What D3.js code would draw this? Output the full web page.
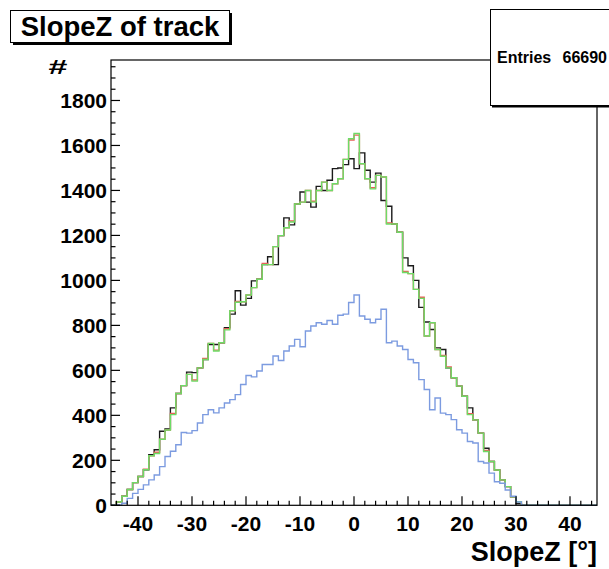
<!DOCTYPE html>
<html>
<head>
<meta charset="utf-8">
<script src="https://cdn.jsdelivr.net/npm/d3@7"></script>
<style>
  body { margin: 0; background: #fff; }
  text { font-family: "Liberation Sans", Arial, Helvetica, sans-serif; font-weight: bold; }
</style>
</head>
<body>
<div id="chart"></div>
<script>
// 1 degree bins from -45 to 45
var binLow = -45, binHigh = 45;

var blackCounts = [0, 15, 40, 70, 101, 128, 158, 225, 247, 329,
    339, 433, 497, 532, 592, 590, 611, 648, 715, 715,
    723, 790, 850, 954, 890, 920, 998, 1005, 1070, 1105,
    1070, 1199, 1278, 1247, 1340, 1393, 1348, 1326, 1418, 1400,
    1445, 1497, 1500, 1515, 1541, 1497, 1567, 1490, 1437, 1477,
    1355, 1330, 1251, 1214, 1100, 1065, 1000, 880, 815, 782,
    700, 693, 611, 567, 530, 485, 433, 380, 321, 254,
    195, 157, 113, 83, 38, 7, 0, 0, 0, 0,
    0, 0, 0, 0, 0, 0, 0, 0, 0, 0];

var redCounts = [0, 15, 40, 70, 101, 128, 160, 220, 236, 294,
    335, 408, 497, 532, 582, 557, 611, 653, 720, 690,
    723, 785, 865, 906, 905, 935, 968, 1005, 1075, 1070,
    1150, 1199, 1234, 1264, 1340, 1348, 1400, 1352, 1400, 1437,
    1400, 1430, 1452, 1538, 1624, 1646, 1519, 1452, 1412, 1467,
    1460, 1255, 1251, 1214, 1040, 1030, 960, 925, 753, 812,
    693, 666, 615, 567, 530, 485, 407, 380, 321, 244,
    195, 157, 113, 83, 38, 16, 0, 0, 0, 0,
    0, 0, 0, 0, 0, 0, 0, 0, 0, 0];

var greenCounts = [0, 15, 40, 70, 101, 128, 158, 220, 230, 294,
    335, 403, 497, 532, 582, 552, 611, 648, 720, 686,
    723, 780, 865, 903, 905, 935, 968, 1005, 1070, 1070,
    1150, 1199, 1234, 1260, 1340, 1348, 1400, 1348, 1400, 1437,
    1400, 1430, 1452, 1538, 1630, 1653, 1519, 1452, 1407, 1467,
    1460, 1251, 1251, 1214, 1035, 1030, 960, 920, 753, 812,
    693, 663, 611, 567, 530, 485, 403, 380, 321, 239,
    195, 157, 113, 83, 38, 16, 0, 0, 0, 0,
    0, 0, 0, 0, 0, 0, 0, 0, 0, 0];

var blueCounts = [0, 2, 9, 31, 53, 71, 91, 113, 135, 172,
    217, 240, 269, 324, 321, 332, 366, 403, 425, 411,
    433, 455, 470, 492, 537, 577, 571, 597, 626, 626,
    664, 644, 686, 708, 738, 705, 775, 797, 812, 805,
    822, 805, 845, 850, 902, 935, 842, 827, 812, 827,
    872, 723, 730, 708, 693, 648, 634, 559, 515, 425,
    477, 410, 403, 381, 336, 321, 284, 277, 195, 188,
    143, 105, 98, 68, 40, 15, 0, 0, 0, 0,
    0, 0, 0, 0, 0, 0, 0, 0, 0, 0];

var xTicks = [-40, -30, -20, -10, 0, 10, 20, 30, 40];
var yTicks = [0, 200, 400, 600, 800, 1000, 1200, 1400, 1600, 1800];

var histTitle = "SlopeZ of track";
var xTitle = "SlopeZ [\u00b0]";
var yTitle = "#";
var statsText = ["Entries", "66690"];

var W = 609, H = 569;
var frame = { left: 111, right: 597, top: 60, bottom: 505.3 };

var svg = d3.select("#chart").append("svg")
    .attr("width", W).attr("height", H);

svg.append("rect").attr("width", W).attr("height", H).attr("fill", "#fff");

var x = d3.scaleLinear().domain([binLow, binHigh]).range([frame.left, frame.right]);
var y = d3.scaleLinear().domain([0, 1980]).range([frame.bottom, frame.top]);

// step outline, one horizontal segment per bin
function stepPoints(counts) {
    var pts = [];
    counts.forEach(function (c, i) {
        pts.push([binLow + i, c]);
        pts.push([binLow + i + 1, c]);
    });
    return pts;
}
var line = d3.line()
    .x(function (d) { return x(d[0]); })
    .y(function (d) { return y(d[1]); });

var series = [
    { counts: blackCounts, color: "#1a1a1a" },
    { counts: redCounts, color: "#e8605a" },
    { counts: greenCounts, color: "#6ddc66" },
    { counts: blueCounts, color: "#7c9be0" }
];
series.forEach(function (s) {
    svg.append("path")
        .attr("d", line(stepPoints(s.counts)))
        .attr("fill", "none")
        .attr("stroke", s.color)
        .attr("stroke-width", 1.4);
});

// frame
svg.append("rect")
    .attr("x", frame.left).attr("y", frame.top)
    .attr("width", frame.right - frame.left)
    .attr("height", frame.bottom - frame.top)
    .attr("fill", "none").attr("stroke", "#000").attr("stroke-width", 1.2);

// x ticks (inside, pointing up)
var xMinor = d3.range(-44, 46, 2);
svg.selectAll(".xminor").data(xMinor).enter().append("line")
    .attr("x1", function (d) { return x(d); }).attr("x2", function (d) { return x(d); })
    .attr("y1", frame.bottom).attr("y2", function (d) { return frame.bottom - (d % 10 === 0 ? 9 : 4.5); })
    .attr("stroke", "#000").attr("stroke-width", 1.2);
svg.selectAll(".xlab").data(xTicks).enter().append("text")
    .attr("x", function (d) { return x(d); }).attr("y", 531)
    .attr("text-anchor", "middle").attr("font-size", 21)
    .text(function (d) { return d; });

// y ticks (inside, pointing right)
var yMinor = d3.range(0, 1980, 50);
svg.selectAll(".yminor").data(yMinor).enter().append("line")
    .attr("x1", frame.left).attr("x2", function (d) { return frame.left + (d % 200 === 0 ? 9 : 4.5); })
    .attr("y1", function (d) { return y(d); }).attr("y2", function (d) { return y(d); })
    .attr("stroke", "#000").attr("stroke-width", 1.2);
svg.selectAll(".ylab").data(yTicks).enter().append("text")
    .attr("x", 107).attr("y", function (d) { return y(d) + 7.5; })
    .attr("text-anchor", "end").attr("font-size", 21)
    .text(function (d) { return d; });

// axis titles
svg.append("text").attr("x", 597).attr("y", 561)
    .attr("text-anchor", "end").attr("font-size", 27).text(xTitle);
svg.append("text")
    .attr("transform", "translate(58,74) scale(1.7,1)")
    .attr("text-anchor", "middle").attr("font-size", 20).text(yTitle);

// title box with shadow
svg.append("rect").attr("x", 13).attr("y", 13).attr("width", 219).attr("height", 32).attr("fill", "#000");
svg.append("rect").attr("x", 10.5).attr("y", 10.5).attr("width", 219).attr("height", 32)
    .attr("fill", "#fff").attr("stroke", "#000").attr("stroke-width", 1);
svg.append("text").attr("x", 120).attr("y", 36)
    .attr("text-anchor", "middle").attr("font-size", 27.5).text(histTitle);

// stats box
svg.append("rect").attr("x", 492).attr("y", 11.5).attr("width", 140).attr("height", 96).attr("fill", "#000");
svg.append("rect").attr("x", 490.5).attr("y", 9.5).attr("width", 140).attr("height", 96)
    .attr("fill", "#fff").attr("stroke", "#000").attr("stroke-width", 1);
svg.append("text").attr("x", 497).attr("y", 63).attr("font-size", 16).text(statsText[0]);
svg.append("text").attr("x", 607).attr("y", 63).attr("text-anchor", "end").attr("font-size", 16).text(statsText[1]);
</script>
</body>
</html>
